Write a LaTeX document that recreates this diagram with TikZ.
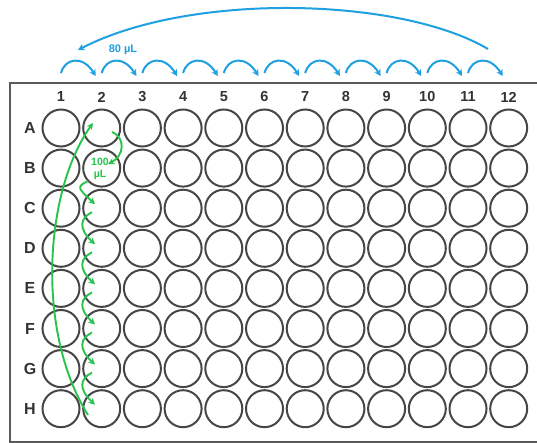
\documentclass[tikz,border=0pt]{standalone}
\usepackage{fontspec}
\setmainfont{Liberation Sans}
\usetikzlibrary{arrows.meta}
\definecolor{bluearr}{RGB}{30,160,225}
\definecolor{greenarr}{RGB}{40,195,75}
\definecolor{wellgray}{RGB}{70,70,70}
\definecolor{framegray}{RGB}{90,90,90}
\begin{document}
\begin{tikzpicture}[x=1pt,y=-1pt,
  well/.style={circle,draw=wellgray,line width=2pt,minimum size=37pt,inner sep=0pt},
  collab/.style={font=\bfseries\fontsize{14.5}{16}\selectfont,text=black!80,inner sep=0pt},
  rowlab/.style={font=\bfseries\fontsize{16}{18}\selectfont,text=black!80,inner sep=0pt},
  bluearrow/.style={draw=bluearr,line width=2pt,-{Stealth[length=6.5pt,width=7pt]}},
  greenarrow/.style={draw=greenarr,line width=1.9pt,-{Stealth[length=6.5pt,width=6.5pt]}},
  plate/.style={draw=framegray,line width=2pt}]
\useasboundingbox (0,0) rectangle (537,443);
\clip (0,0) rectangle (537,443);
\fill[white] (0,0) rectangle (537,443);
\draw[plate] (9.5,83) rectangle (560,441.5);
% wells and labels
\foreach \r [count=\i] in {A,B,C,D,E,F,G,H}{
  \node[rowlab] (r\r) at (30,{128+(\i-1)*40.1}) {\r};
  \foreach \c in {1,...,12}{
    \node[well] (w-\r-\c) at ({61+(\c-1)*40.7},{128+(\i-1)*40.1}) {};
  }
}
\foreach \c in {1,...,12}{
  \node[collab] (c\c) at ({61+(\c-1)*40.7},97) {\c};
}
% blue small transfer arcs
\foreach \c in {1,...,11}{
  \coordinate (bs\c) at ({61+(\c-1)*40.7},73);
  \coordinate (be\c) at ({61+\c*40.7-6},76);
  \draw[bluearrow] (bs\c) .. controls +(4,-15) and +(-13,-21) .. (be\c);
}
% big blue return arc
\coordinate (bigs) at (488,49);
\coordinate (bige) at (78,50);
\draw[bluearrow] (bigs) .. controls (400,-3) and (190,-8) .. (bige);
\node[font=\bfseries\fontsize{11}{13}\selectfont,text=bluearr,inner sep=0pt] (l80) at (123,50) {80 µL};
% green: big arc from H2 to A2
\coordinate (gbot) at (88,415);
\coordinate (gtop) at (93,123);
\draw[greenarrow] (gbot) .. controls (35,330) and (45,190) .. (gtop);
% green: A2 to B2
\coordinate (gs) at (112,132);
\coordinate (ge) at (108,164);
\draw[greenarrow] (gs) .. controls (126,138) and (124,156) .. (ge);
\node[font=\bfseries\fontsize{10.5}{12}\selectfont,text=greenarr,align=center,inner sep=0pt] (l100) at (100,169) {100\\µL};
% green: serial dilution down column 2
\coordinate (z3s) at (88,181);
\foreach \n/\p in {4/3,5/4,6/5,7/6,8/7}{
  \coordinate (z\n s) at (92,{128+(\p-1)*40.1+4});
}
\foreach \n in {3,...,8}{
  \coordinate (z\n e) at (95,{128+(\n-1)*40.1-4});
  \draw[greenarrow] (z\n s) .. controls +(-12,6) and +(-17,-16) .. (z\n e);
}
\end{tikzpicture}
\end{document}
